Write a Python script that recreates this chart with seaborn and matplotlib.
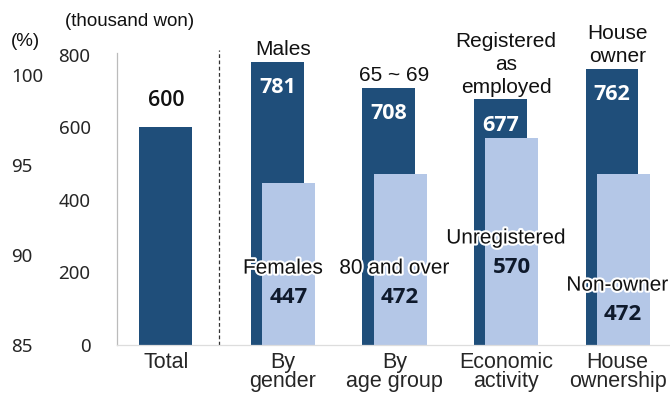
import numpy as np
import pandas as pd
import matplotlib
matplotlib.use("Agg")
import matplotlib.pyplot as plt
import matplotlib.patheffects as pe
import seaborn as sns

# ---- data ----
groups = ["Total", "By\ngender", "By\nage group", "Economic\nactivity", "House\nownership"]
high_names = ["", "Males", "65 ~ 69", "Registered\nas\nemployed", "House\nowner"]
high_values = [600, 781, 708, 677, 762]
low_names = ["", "Females", "80 and over", "Unregistered", "Non-owner"]
low_values = [np.nan, 447, 472, 570, 472]
pct_ticks = [85, 90, 95, 100]
won_ticks = [0, 200, 400, 600, 800]

# ---- layout ----
low_label_y = [None, 212, 212, 295, 165]   # data-units position of light-bar name labels
OFF = 0.05
W = 0.475
DARK = "#1F4E7A"
LIGHT = "#B4C7E7"

sns.set_theme(style="white")
plt.rcParams["font.family"] = ["Liberation Sans", "DejaVu Sans"]

fig = plt.figure(figsize=(6.70, 3.94), dpi=100)
ax = fig.add_axes([117 / 670, 1 - 345 / 394, 1 - 117 / 670, (345 - 53) / 394])

idx = np.arange(len(groups))
has_low = ~np.isnan(np.array(low_values, dtype=float))
dark_x = idx - OFF
light_x = idx + OFF

df_dark = pd.DataFrame({"x": dark_x, "v": high_values})
df_light = pd.DataFrame({"x": light_x[has_low], "v": np.array(low_values)[has_low]})

sns.barplot(data=df_dark, x="x", y="v", native_scale=True, width=W,
            color=DARK, saturation=1, ax=ax, linewidth=0)
sns.barplot(data=df_light, x="x", y="v", native_scale=True, width=W,
            color=LIGHT, saturation=1, ax=ax, linewidth=0)

ax.set_xlim(-0.489, 4.47)
ax.set_ylim(0, 805)
tick_pos = [dark_x[i] if not has_low[i] else idx[i] for i in idx]
ax.set_xticks(tick_pos)
ax.set_xticklabels(groups, fontsize=15.5, linespacing=0.9)
ax.tick_params(axis="x", length=0, pad=5)
num_font = ["Noto Sans", "DejaVu Sans"]
bold_font = ["Open Sans", "DejaVu Sans"]
ax.set_yticks(won_ticks)
ax.set_yticklabels([str(t) for t in won_ticks], fontsize=13.5, family=num_font)
ax.tick_params(axis="y", length=0, pad=19)
ax.set_xlabel("")
ax.set_ylabel("")
for s in ["top", "right"]:
    ax.spines[s].set_visible(False)
ax.spines["left"].set_color("#BBBBBB")
ax.spines["left"].set_linewidth(0.9)
ax.spines["bottom"].set_color("#DDDDDD")
ax.spines["bottom"].set_linewidth(0.9)

# divider
ax.axvline(0.43, ymin=0, ymax=1.01, color="#333333", linestyle=(0, (3, 2)),
           linewidth=0.9, clip_on=False)

# secondary (%) axis on the far left
ax2 = ax.twinx()
ax2.set_ylim(85, 101.2)
ax2.yaxis.tick_left()
ax2.set_yticks(pct_ticks)
ax2.set_yticklabels([str(t) for t in pct_ticks], fontsize=13.5, family=num_font, ha="left")
ax2.tick_params(axis="y", length=0, pad=76)
for s in ax2.spines.values():
    s.set_visible(False)
ax2.grid(False)
ax.grid(False)

halo = [pe.withStroke(linewidth=3, foreground="white")]

for i in idx:
    hv = high_values[i]
    if not has_low[i]:
        ax.annotate(str(hv), (dark_x[i], hv), xytext=(0, 12), textcoords="offset points",
                    ha="center", va="bottom", fontsize=15.5, family=bold_font,
                    fontweight="semibold", color="#111111")
        continue
    ax.annotate(high_names[i], (idx[i], hv), xytext=(0, 2), textcoords="offset points",
                ha="center", va="bottom", fontsize=15, color="#111111",
                linespacing=1.24)
    ax.annotate(str(hv), (dark_x[i], hv), xytext=(0, -11), textcoords="offset points",
                ha="center", va="top", fontsize=15.5, family=bold_font,
                fontweight="bold", color="white")
    ly = low_label_y[i]
    ax.text(idx[i], ly, low_names[i], ha="center", va="center", fontsize=15,
            color="#111111", path_effects=halo)
    ax.text(light_x[i], ly - 80, f"{int(low_values[i])}", ha="center", va="center",
            fontsize=16, family=bold_font, fontweight="bold", color="#0F1A2C")

fig.text(130 / 670, 1 - 22 / 394, "(thousand won)", ha="center", va="center",
         fontsize=13.5, color="#111111")
fig.text(25 / 670, 1 - 41 / 394, "(%)", ha="center", va="center",
         fontsize=13.5, color="#111111")

fig.savefig("out.png", dpi=100)
